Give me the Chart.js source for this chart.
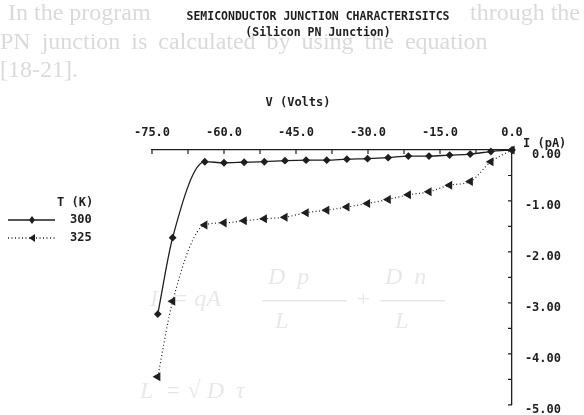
<!DOCTYPE html>
<html>
<head>
<meta charset="utf-8">
<script src="https://cdn.jsdelivr.net/npm/chart.js@4"></script>
<style>
  html, body { margin: 0; padding: 0; background: #fff; }
  #wrap { width: 584px; height: 415px; position: relative; }
</style>
</head>
<body>
<div id="wrap"><canvas id="myChart"></canvas></div>
<script>
// voltage (V) at each measured point
var volts = [-73.8, -70.7, -64.0, -60.0, -55.8, -51.6, -47.3, -42.9, -38.6, -34.4, -30.1, -25.8, -21.6, -17.3, -13.0, -8.7, -4.4, 0.0];
// current (pA) at T = 300 K
var i300 = [-3.22, -1.72, -0.23, -0.25, -0.24, -0.23, -0.21, -0.20, -0.20, -0.18, -0.17, -0.15, -0.12, -0.12, -0.10, -0.08, -0.03, 0.0];
// current (pA) at T = 325 K
var i325 = [-4.45, -2.97, -1.47, -1.43, -1.39, -1.35, -1.32, -1.23, -1.18, -1.12, -1.05, -0.97, -0.88, -0.82, -0.69, -0.62, -0.23, 0.0];
var seriesNames = ["300", "325"];
var chartTitle = "SEMICONDUCTOR JUNCTION CHARACTERISITCS";
var chartSubtitle = "(Silicon PN Junction)";
var xTitle = "V (Volts)";
var yTitle = "I (pA)";
var legendTitle = "T (K)";

var mono = "'DejaVu Sans Mono', 'Liberation Mono', monospace";
var ink = "#1e1e1e";

function pts(ys) {
  return volts.map(function (v, i) { return { x: v, y: ys[i] }; });
}

// faint print-through from the scanned page + titles/legend drawn by hand
var pagePlugin = {
  id: "page",
  beforeDraw: function (chart) {
    var ctx = chart.ctx;
    ctx.save();
    ctx.fillStyle = "#fff";
    ctx.fillRect(0, 0, chart.width, chart.height);
    ctx.fillStyle = "#dadada";
    ctx.font = "24px 'Liberation Serif', serif";
    ctx.textBaseline = "middle";
    ctx.textAlign = "left";
    ctx.fillText("In the program", 8, 14);
    ctx.fillText("through the", 470, 14);
    ctx.wordSpacing = "5px";
    ctx.fillText("PN junction is calculated by using the equation", 0, 43);
    ctx.wordSpacing = "0px";
    ctx.fillText("[18-21].", 0, 71);
    ctx.fillStyle = "#e8e8e8";
    ctx.font = "italic 24px 'Liberation Serif', serif";
    ctx.fillText("I", 150, 300);
    ctx.fillText("= qA", 172, 300);
    ctx.fillText("D  p", 268, 278);
    ctx.fillText("L", 275, 322);
    ctx.fillText("+", 355, 300);
    ctx.fillText("D  n", 385, 278);
    ctx.fillText("L", 395, 322);
    ctx.fillText("L  = \u221A D  \u03C4", 140, 392);
    ctx.fillRect(262, 300, 85, 1.5);
    ctx.fillRect(380, 300, 65, 1.5);
    ctx.restore();
  },
  afterDraw: function (chart) {
    var ctx = chart.ctx;
    var xs = chart.scales.x, ys = chart.scales.y;
    ctx.save();
    // inward tick marks
    ctx.strokeStyle = ink;
    ctx.lineWidth = 1.2;
    ctx.beginPath();
    for (var v = -75; v <= 0.001; v += 7.5) {
      var px = xs.getPixelForValue(v);
      ctx.moveTo(px, ys.top);
      ctx.lineTo(px, ys.top + 4);
    }
    for (var w = 0; w >= -5.001; w -= 0.5) {
      var py = ys.getPixelForValue(w);
      ctx.moveTo(xs.right, py);
      ctx.lineTo(xs.right - 4, py);
    }
    ctx.stroke();

    ctx.fillStyle = ink;
    ctx.textBaseline = "middle";
    ctx.textAlign = "center";
    ctx.font = "bold 11.5px " + mono;
    ctx.fillText(chartTitle, 318, 17);
    ctx.fillText(chartSubtitle, 318, 33);
    ctx.font = "bold 12px " + mono;
    ctx.fillText(xTitle, 298, 103);
    ctx.textAlign = "left";
    ctx.fillText(yTitle, 523, 144);

    // legend
    ctx.fillText(legendTitle, 57, 203);
    ctx.fillText(seriesNames[0], 70, 220);
    ctx.fillText(seriesNames[1], 70, 238);
    ctx.lineWidth = 1.3;
    ctx.beginPath();
    ctx.moveTo(8, 220); ctx.lineTo(55, 220);
    ctx.stroke();
    ctx.setLineDash([1, 2.5]);
    ctx.beginPath();
    ctx.moveTo(8, 238); ctx.lineTo(55, 238);
    ctx.stroke();
    ctx.setLineDash([]);
    ctx.beginPath();
    ctx.moveTo(32, 216); ctx.lineTo(35, 220); ctx.lineTo(32, 224); ctx.lineTo(29, 220);
    ctx.closePath(); ctx.fill();
    ctx.beginPath();
    ctx.moveTo(29, 238); ctx.lineTo(35, 234); ctx.lineTo(35, 242);
    ctx.closePath(); ctx.fill();
    ctx.restore();
  }
};

new Chart(document.getElementById("myChart"), {
  type: "scatter",
  data: {
    datasets: [
      {
        label: seriesNames[0],
        data: pts(i300),
        showLine: true,
        borderColor: ink,
        backgroundColor: ink,
        borderWidth: 1.3,
        cubicInterpolationMode: "monotone",
        pointStyle: "rectRot",
        pointRadius: 3,
        pointHoverRadius: 3,
        clip: false,
      },
      {
        label: seriesNames[1],
        data: pts(i325),
        showLine: true,
        borderColor: ink,
        backgroundColor: ink,
        borderWidth: 1.2,
        borderDash: [1, 2.5],
        cubicInterpolationMode: "monotone",
        pointStyle: "triangle",
        rotation: -90,
        pointRadius: 4,
        pointHoverRadius: 4,
        clip: false,
      },
    ],
  },
  plugins: [pagePlugin],
  options: {
    responsive: true,
    maintainAspectRatio: false,
    animation: false,
    events: [],
    layout: { padding: { left: 152, right: 23, top: 0, bottom: 10 } },
    plugins: {
      legend: { display: false },
      title: { display: false },
      tooltip: { enabled: false },
    },
    scales: {
      x: {
        type: "linear",
        position: "top",
        min: -75,
        max: 0,
        afterFit: function (s) { s.height = 150; },
        border: { display: true, color: ink, width: 1.3 },
        grid: { drawOnChartArea: false, drawTicks: false },
        ticks: {
          stepSize: 15,
          padding: 10,
          color: ink,
          maxRotation: 0,
          font: { family: mono, size: 12, weight: "bold" },
          callback: function (v) { return v.toFixed(1); },
        },
      },
      y: {
        type: "linear",
        position: "right",
        min: -5,
        max: 0,
        afterFit: function (s) { s.width = 49; },
        border: { display: true, color: ink, width: 1.3 },
        grid: { drawOnChartArea: false, drawTicks: false },
        ticks: {
          stepSize: 1,
          crossAlign: "far",
          labelOffset: 5,
          color: ink,
          font: { family: mono, size: 12, weight: "bold" },
          callback: function (v) { return v.toFixed(2); },
        },
      },
    },
  },
});
</script>
</body>
</html>
